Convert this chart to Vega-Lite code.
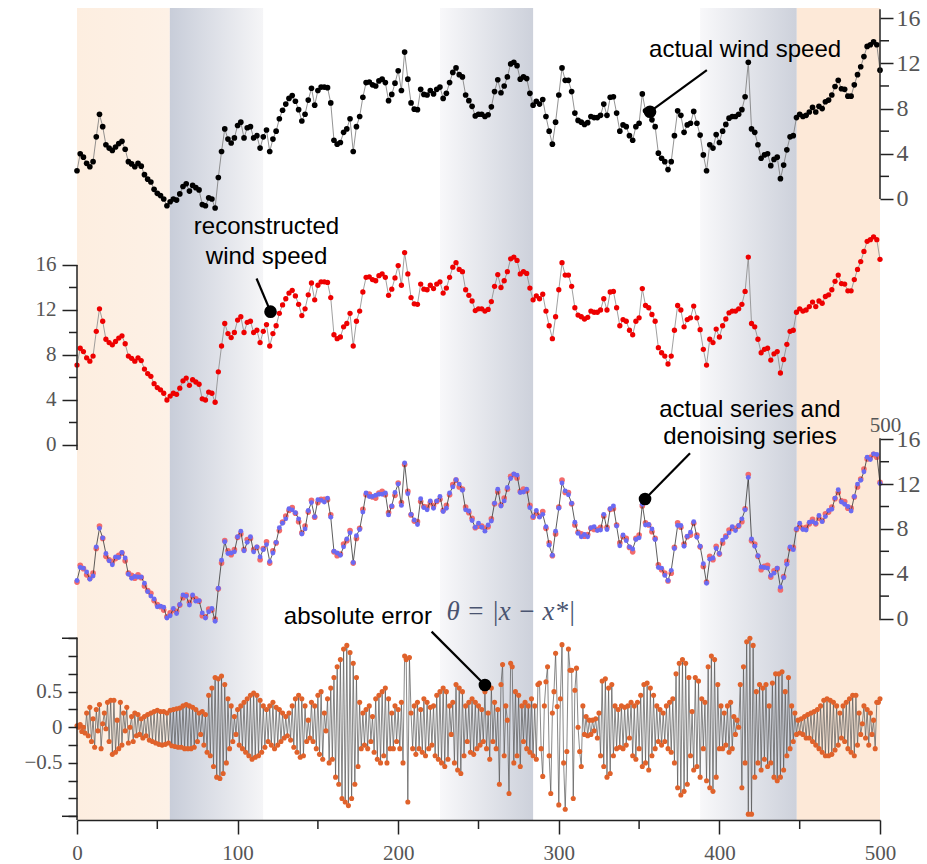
{
"$schema": "https://vega.github.io/schema/vega-lite/v6.json",
"width": 803, "height": 812,
"autosize": "none",
"padding": {"left": 77, "top": 8, "right": 47, "bottom": 44},
"background": "white",
"config": {"view": {"stroke": null}, "axis": {"grid": false, "labelFont": "Liberation Serif", "labelColor": "#555", "tickColor": "#222", "tickWidth": 1.5, "domainColor": "#222", "domainWidth": 1.5, "labelOverlap": false}},
"datasets": {
"main": [
{"x":0,"a":2.5,"r":7.1,"s":3.25,"d":3.4},
{"x":2,"a":4.0,"r":8.6,"s":4.75,"d":4.55},
{"x":4,"a":3.7,"r":8.3,"s":4.45,"d":4.5},
{"x":6,"a":3.15,"r":7.75,"s":3.9,"d":4.15},
{"x":8,"a":2.85,"r":7.45,"s":3.6,"d":3.5},
{"x":10,"a":3.3,"r":7.9,"s":4.05,"d":3.8},
{"x":12,"a":5.5,"r":10.1,"s":6.25,"d":6.4},
{"x":14,"a":7.5,"r":12.1,"s":8.25,"d":8.05},
{"x":16,"a":6.4,"r":11.0,"s":7.15,"d":7.2},
{"x":18,"a":4.8,"r":9.4,"s":5.55,"d":5.8},
{"x":20,"a":4.5,"r":9.1,"s":5.25,"d":5.15},
{"x":22,"a":4.3,"r":8.9,"s":5.05,"d":4.8},
{"x":24,"a":4.6,"r":9.2,"s":5.35,"d":5.5},
{"x":26,"a":4.9,"r":9.5,"s":5.65,"d":5.45},
{"x":28,"a":5.1,"r":9.7,"s":5.85,"d":5.9},
{"x":30,"a":4.4,"r":9.0,"s":5.15,"d":5.4},
{"x":32,"a":3.3,"r":7.9,"s":4.05,"d":3.95},
{"x":34,"a":3.1,"r":7.7,"s":3.85,"d":3.6},
{"x":36,"a":2.85,"r":7.45,"s":3.6,"d":3.75},
{"x":38,"a":3.15,"r":7.75,"s":3.9,"d":3.7},
{"x":40,"a":2.9,"r":7.5,"s":3.65,"d":3.7},
{"x":42,"a":2.15,"r":6.75,"s":2.9,"d":3.15},
{"x":44,"a":1.75,"r":6.35,"s":2.5,"d":2.4},
{"x":46,"a":1.5,"r":6.1,"s":2.25,"d":2.0},
{"x":48,"a":0.85,"r":5.45,"s":1.6,"d":1.75},
{"x":50,"a":0.5,"r":5.1,"s":1.25,"d":1.05},
{"x":52,"a":0.3,"r":4.9,"s":1.05,"d":1.1},
{"x":54,"a":0.0,"r":4.6,"s":0.75,"d":1.0},
{"x":56,"a":-0.6,"r":4.0,"s":0.15,"d":0.05},
{"x":58,"a":-0.25,"r":4.35,"s":0.5,"d":0.25},
{"x":60,"a":0.0,"r":4.6,"s":0.75,"d":0.9},
{"x":62,"a":-0.1,"r":4.5,"s":0.65,"d":0.45},
{"x":64,"a":0.45,"r":5.05,"s":1.2,"d":1.25},
{"x":66,"a":1.1,"r":5.7,"s":1.85,"d":2.1},
{"x":68,"a":1.35,"r":5.95,"s":2.1,"d":2.0},
{"x":70,"a":0.7,"r":5.3,"s":1.45,"d":1.2},
{"x":72,"a":1.2,"r":5.8,"s":1.95,"d":2.1},
{"x":74,"a":1.0,"r":5.6,"s":1.75,"d":1.55},
{"x":76,"a":0.8,"r":5.4,"s":1.55,"d":1.6},
{"x":78,"a":-0.5,"r":4.1,"s":0.25,"d":0.5},
{"x":80,"a":-0.6,"r":4.0,"s":0.15,"d":0.05},
{"x":82,"a":0.1,"r":4.7,"s":0.85,"d":0.6},
{"x":84,"a":0.0,"r":4.6,"s":0.75,"d":0.9},
{"x":86,"a":-0.8,"r":3.8,"s":-0.05,"d":-0.25},
{"x":88,"a":1.9,"r":6.5,"s":2.65,"d":2.7},
{"x":90,"a":4.2,"r":8.8,"s":4.95,"d":5.2},
{"x":92,"a":6.2,"r":10.8,"s":6.95,"d":6.85},
{"x":94,"a":5.3,"r":9.9,"s":6.05,"d":5.8},
{"x":96,"a":4.95,"r":9.55,"s":5.7,"d":5.85},
{"x":98,"a":5.4,"r":10.0,"s":6.15,"d":5.95},
{"x":100,"a":6.5,"r":11.1,"s":7.25,"d":7.3},
{"x":102,"a":6.8,"r":11.4,"s":7.55,"d":7.8},
{"x":104,"a":5.4,"r":10.0,"s":6.15,"d":6.05},
{"x":106,"a":6.3,"r":10.9,"s":7.05,"d":6.8},
{"x":108,"a":6.4,"r":11.0,"s":7.15,"d":7.3},
{"x":110,"a":5.4,"r":10.0,"s":6.15,"d":5.95},
{"x":112,"a":5.6,"r":10.2,"s":6.35,"d":6.4},
{"x":114,"a":4.5,"r":9.1,"s":5.25,"d":5.5},
{"x":116,"a":5.5,"r":10.1,"s":6.25,"d":6.15},
{"x":118,"a":6.1,"r":10.7,"s":6.85,"d":6.6},
{"x":120,"a":4.2,"r":8.8,"s":4.95,"d":5.1},
{"x":122,"a":5.3,"r":9.9,"s":6.05,"d":5.85},
{"x":124,"a":6.0,"r":10.6,"s":6.75,"d":6.8},
{"x":126,"a":7.1,"r":11.7,"s":7.85,"d":8.1},
{"x":128,"a":7.85,"r":12.45,"s":8.6,"d":8.5},
{"x":130,"a":8.4,"r":13.0,"s":9.15,"d":8.9},
{"x":132,"a":8.9,"r":13.5,"s":9.65,"d":9.8},
{"x":134,"a":9.15,"r":13.75,"s":9.9,"d":9.7},
{"x":136,"a":8.65,"r":13.25,"s":9.4,"d":9.45},
{"x":138,"a":7.9,"r":12.5,"s":8.65,"d":8.9},
{"x":140,"a":6.9,"r":11.5,"s":7.65,"d":7.55},
{"x":142,"a":7.5,"r":12.1,"s":8.25,"d":8.0},
{"x":144,"a":8.75,"r":13.35,"s":9.5,"d":9.65},
{"x":146,"a":9.8,"r":14.4,"s":10.55,"d":10.35},
{"x":148,"a":8.3,"r":12.9,"s":9.05,"d":9.1},
{"x":150,"a":9.6,"r":14.2,"s":10.35,"d":10.6},
{"x":152,"a":9.9,"r":14.5,"s":10.65,"d":10.55},
{"x":154,"a":9.9,"r":14.5,"s":10.65,"d":10.4},
{"x":156,"a":9.85,"r":14.45,"s":10.6,"d":10.75},
{"x":158,"a":8.5,"r":13.1,"s":9.25,"d":9.05},
{"x":160,"a":5.2,"r":9.8,"s":5.95,"d":6.0},
{"x":162,"a":4.85,"r":9.45,"s":5.6,"d":5.85},
{"x":164,"a":5.0,"r":9.6,"s":5.75,"d":5.65},
{"x":166,"a":5.9,"r":10.5,"s":6.65,"d":6.4},
{"x":168,"a":6.2,"r":10.8,"s":6.95,"d":7.1},
{"x":170,"a":7.1,"r":11.7,"s":7.85,"d":7.65},
{"x":172,"a":4.2,"r":8.8,"s":4.95,"d":5.0},
{"x":174,"a":6.4,"r":11.0,"s":7.15,"d":7.4},
{"x":176,"a":7.3,"r":11.9,"s":8.05,"d":7.95},
{"x":178,"a":9.0,"r":13.6,"s":9.75,"d":9.5},
{"x":180,"a":10.3,"r":14.9,"s":11.05,"d":11.2},
{"x":182,"a":10.35,"r":14.95,"s":11.1,"d":10.9},
{"x":184,"a":10.1,"r":14.7,"s":10.85,"d":10.9},
{"x":186,"a":10.0,"r":14.6,"s":10.75,"d":11.0},
{"x":188,"a":10.45,"r":15.05,"s":11.2,"d":11.1},
{"x":190,"a":10.6,"r":15.2,"s":11.35,"d":11.1},
{"x":192,"a":10.3,"r":14.9,"s":11.05,"d":11.2},
{"x":194,"a":8.7,"r":13.3,"s":9.45,"d":9.25},
{"x":196,"a":9.25,"r":13.85,"s":10.0,"d":10.05},
{"x":198,"a":10.25,"r":14.85,"s":11.0,"d":11.25},
{"x":200,"a":11.35,"r":15.95,"s":12.1,"d":12.0},
{"x":202,"a":9.6,"r":14.2,"s":10.35,"d":10.1},
{"x":204,"a":13.0,"r":17.1,"s":13.75,"d":13.9},
{"x":206,"a":10.6,"r":15.2,"s":11.35,"d":11.15},
{"x":208,"a":8.5,"r":13.1,"s":9.25,"d":9.3},
{"x":210,"a":7.95,"r":12.55,"s":8.7,"d":8.8},
{"x":212,"a":7.9,"r":12.5,"s":8.65,"d":8.4},
{"x":214,"a":9.7,"r":14.3,"s":10.45,"d":10.7},
{"x":216,"a":9.25,"r":13.85,"s":10.0,"d":9.9},
{"x":218,"a":9.2,"r":13.8,"s":9.95,"d":9.7},
{"x":220,"a":9.6,"r":14.2,"s":10.35,"d":10.5},
{"x":222,"a":9.3,"r":13.9,"s":10.05,"d":9.85},
{"x":224,"a":9.7,"r":14.3,"s":10.45,"d":10.5},
{"x":226,"a":9.9,"r":14.5,"s":10.65,"d":10.9},
{"x":228,"a":8.9,"r":13.5,"s":9.65,"d":9.55},
{"x":230,"a":9.35,"r":13.95,"s":10.1,"d":9.85},
{"x":232,"a":10.3,"r":14.9,"s":11.05,"d":11.2},
{"x":234,"a":11.2,"r":15.8,"s":11.95,"d":11.75},
{"x":236,"a":11.6,"r":16.2,"s":12.35,"d":12.4},
{"x":238,"a":11.0,"r":15.6,"s":11.75,"d":12.0},
{"x":240,"a":10.8,"r":15.4,"s":11.55,"d":11.45},
{"x":242,"a":9.2,"r":13.8,"s":9.95,"d":9.7},
{"x":244,"a":8.7,"r":13.3,"s":9.45,"d":9.6},
{"x":246,"a":8.2,"r":12.8,"s":8.95,"d":8.75},
{"x":248,"a":7.35,"r":11.95,"s":8.1,"d":8.15},
{"x":250,"a":7.5,"r":12.1,"s":8.25,"d":8.5},
{"x":252,"a":7.5,"r":12.1,"s":8.25,"d":8.15},
{"x":254,"a":7.3,"r":11.9,"s":8.05,"d":7.8},
{"x":256,"a":7.45,"r":12.05,"s":8.2,"d":8.35},
{"x":258,"a":8.15,"r":12.75,"s":8.9,"d":8.7},
{"x":260,"a":9.5,"r":14.1,"s":10.25,"d":10.3},
{"x":262,"a":10.55,"r":15.15,"s":11.3,"d":11.55},
{"x":264,"a":9.4,"r":14.0,"s":10.15,"d":10.05},
{"x":266,"a":10.0,"r":14.6,"s":10.75,"d":10.5},
{"x":268,"a":10.8,"r":15.4,"s":11.55,"d":11.7},
{"x":270,"a":11.95,"r":16.55,"s":12.7,"d":12.5},
{"x":272,"a":12.1,"r":16.7,"s":12.85,"d":12.9},
{"x":274,"a":11.8,"r":16.4,"s":12.55,"d":12.8},
{"x":276,"a":10.6,"r":15.2,"s":11.35,"d":11.25},
{"x":278,"a":10.8,"r":15.4,"s":11.55,"d":11.3},
{"x":280,"a":10.65,"r":15.25,"s":11.4,"d":11.55},
{"x":282,"a":9.35,"r":13.95,"s":10.1,"d":9.9},
{"x":284,"a":8.3,"r":12.9,"s":9.05,"d":9.1},
{"x":286,"a":8.65,"r":13.25,"s":9.4,"d":9.65},
{"x":288,"a":8.4,"r":13.0,"s":9.15,"d":9.05},
{"x":290,"a":8.8,"r":13.4,"s":9.55,"d":9.3},
{"x":292,"a":7.3,"r":11.9,"s":8.05,"d":8.2},
{"x":294,"a":6.0,"r":10.6,"s":6.75,"d":6.55},
{"x":296,"a":4.85,"r":9.45,"s":5.6,"d":5.65},
{"x":298,"a":6.8,"r":11.4,"s":7.55,"d":7.8},
{"x":300,"a":9.2,"r":13.8,"s":9.95,"d":9.85},
{"x":302,"a":11.6,"r":16.2,"s":12.35,"d":12.1},
{"x":304,"a":10.5,"r":15.1,"s":11.25,"d":11.4},
{"x":306,"a":10.5,"r":15.1,"s":11.25,"d":11.05},
{"x":308,"a":9.5,"r":14.1,"s":10.25,"d":10.3},
{"x":310,"a":7.6,"r":12.2,"s":8.35,"d":8.6},
{"x":312,"a":6.95,"r":11.55,"s":7.7,"d":7.6},
{"x":314,"a":6.8,"r":11.4,"s":7.55,"d":7.3},
{"x":316,"a":6.6,"r":11.2,"s":7.35,"d":7.5},
{"x":318,"a":6.75,"r":11.35,"s":7.5,"d":7.3},
{"x":320,"a":7.3,"r":11.9,"s":8.05,"d":8.1},
{"x":322,"a":7.2,"r":11.8,"s":7.95,"d":8.2},
{"x":324,"a":7.2,"r":11.8,"s":7.95,"d":7.85},
{"x":326,"a":7.4,"r":12.0,"s":8.15,"d":7.9},
{"x":328,"a":8.4,"r":13.0,"s":9.15,"d":9.3},
{"x":330,"a":7.4,"r":12.0,"s":8.15,"d":7.95},
{"x":332,"a":9.0,"r":13.6,"s":9.75,"d":9.8},
{"x":334,"a":9.05,"r":13.65,"s":9.8,"d":10.05},
{"x":336,"a":7.6,"r":12.2,"s":8.35,"d":8.25},
{"x":338,"a":6.0,"r":10.6,"s":6.75,"d":6.5},
{"x":340,"a":6.55,"r":11.15,"s":7.3,"d":7.45},
{"x":342,"a":6.4,"r":11.0,"s":7.15,"d":6.95},
{"x":344,"a":5.6,"r":10.2,"s":6.35,"d":6.4},
{"x":346,"a":5.2,"r":9.8,"s":5.95,"d":6.2},
{"x":348,"a":6.4,"r":11.0,"s":7.15,"d":7.05},
{"x":350,"a":6.7,"r":11.3,"s":7.45,"d":7.2},
{"x":352,"a":9.3,"r":13.9,"s":10.05,"d":10.2},
{"x":354,"a":7.8,"r":12.4,"s":8.55,"d":8.35},
{"x":356,"a":7.6,"r":12.2,"s":8.35,"d":8.4},
{"x":358,"a":7.0,"r":11.6,"s":7.75,"d":8.0},
{"x":360,"a":6.4,"r":11.0,"s":7.15,"d":7.05},
{"x":362,"a":4.05,"r":8.65,"s":4.8,"d":4.55},
{"x":364,"a":3.6,"r":8.2,"s":4.35,"d":4.5},
{"x":366,"a":3.3,"r":7.9,"s":4.05,"d":3.85},
{"x":368,"a":2.6,"r":7.2,"s":3.35,"d":3.4},
{"x":370,"a":3.3,"r":7.9,"s":4.05,"d":4.3},
{"x":372,"a":5.6,"r":10.2,"s":6.35,"d":6.25},
{"x":374,"a":7.8,"r":12.4,"s":8.55,"d":8.3},
{"x":376,"a":7.4,"r":12.0,"s":8.15,"d":8.3},
{"x":378,"a":5.9,"r":10.5,"s":6.65,"d":6.45},
{"x":380,"a":6.55,"r":11.15,"s":7.3,"d":7.35},
{"x":382,"a":6.7,"r":11.3,"s":7.45,"d":7.7},
{"x":384,"a":7.75,"r":12.35,"s":8.5,"d":8.65},
{"x":386,"a":6.7,"r":11.3,"s":7.45,"d":7.25},
{"x":388,"a":5.65,"r":10.25,"s":6.4,"d":6.45},
{"x":390,"a":3.9,"r":8.5,"s":4.65,"d":4.9},
{"x":392,"a":2.5,"r":7.1,"s":3.25,"d":3.15},
{"x":394,"a":4.8,"r":9.4,"s":5.55,"d":5.3},
{"x":396,"a":4.5,"r":9.1,"s":5.25,"d":5.4},
{"x":398,"a":5.7,"r":10.3,"s":6.45,"d":6.25},
{"x":400,"a":5.0,"r":9.6,"s":5.75,"d":5.8},
{"x":402,"a":6.0,"r":10.6,"s":6.75,"d":7.0},
{"x":404,"a":6.6,"r":11.2,"s":7.35,"d":7.25},
{"x":406,"a":7.15,"r":11.75,"s":7.9,"d":7.65},
{"x":408,"a":7.3,"r":11.9,"s":8.05,"d":8.2},
{"x":410,"a":7.3,"r":11.9,"s":8.05,"d":7.85},
{"x":412,"a":7.5,"r":12.1,"s":8.25,"d":8.3},
{"x":414,"a":7.9,"r":12.5,"s":8.65,"d":8.9},
{"x":416,"a":9.05,"r":13.65,"s":9.8,"d":9.7},
{"x":418,"a":12.1,"r":16.7,"s":12.85,"d":12.6},
{"x":420,"a":6.2,"r":10.8,"s":6.95,"d":7.1},
{"x":422,"a":5.9,"r":10.5,"s":6.65,"d":6.45},
{"x":424,"a":4.8,"r":9.4,"s":5.55,"d":5.6},
{"x":426,"a":3.6,"r":8.2,"s":4.35,"d":4.6},
{"x":428,"a":3.9,"r":8.5,"s":4.65,"d":4.55},
{"x":430,"a":4.0,"r":8.6,"s":4.75,"d":4.5},
{"x":432,"a":2.95,"r":7.55,"s":3.7,"d":3.85},
{"x":434,"a":3.5,"r":8.1,"s":4.25,"d":4.05},
{"x":436,"a":3.7,"r":8.3,"s":4.45,"d":4.5},
{"x":438,"a":1.8,"r":6.4,"s":2.55,"d":2.8},
{"x":440,"a":3.0,"r":7.6,"s":3.75,"d":3.65},
{"x":442,"a":4.35,"r":8.95,"s":5.1,"d":4.85},
{"x":444,"a":5.5,"r":10.1,"s":6.25,"d":6.4},
{"x":446,"a":5.6,"r":10.2,"s":6.35,"d":6.15},
{"x":448,"a":7.2,"r":11.8,"s":7.95,"d":8.0},
{"x":450,"a":7.5,"r":12.1,"s":8.25,"d":8.5},
{"x":452,"a":7.3,"r":11.9,"s":8.05,"d":7.95},
{"x":454,"a":7.4,"r":12.0,"s":8.15,"d":7.9},
{"x":456,"a":7.7,"r":12.3,"s":8.45,"d":8.6},
{"x":458,"a":8.1,"r":12.7,"s":8.85,"d":8.65},
{"x":460,"a":7.7,"r":12.3,"s":8.45,"d":8.5},
{"x":462,"a":8.2,"r":12.8,"s":8.95,"d":9.2},
{"x":464,"a":8.0,"r":12.6,"s":8.75,"d":8.65},
{"x":466,"a":8.6,"r":13.2,"s":9.35,"d":9.1},
{"x":468,"a":8.75,"r":13.35,"s":9.5,"d":9.65},
{"x":470,"a":9.2,"r":13.8,"s":9.95,"d":9.75},
{"x":472,"a":9.95,"r":14.55,"s":10.7,"d":10.75},
{"x":474,"a":10.5,"r":15.1,"s":11.25,"d":11.5},
{"x":476,"a":9.75,"r":14.35,"s":10.5,"d":10.4},
{"x":478,"a":9.7,"r":14.3,"s":10.45,"d":10.2},
{"x":480,"a":9.1,"r":13.7,"s":9.85,"d":10.0},
{"x":482,"a":9.1,"r":13.7,"s":9.85,"d":9.6},
{"x":484,"a":10.1,"r":14.7,"s":10.85,"d":10.9},
{"x":486,"a":11.0,"r":15.6,"s":11.75,"d":12.0},
{"x":488,"a":11.7,"r":16.3,"s":12.45,"d":12.35},
{"x":490,"a":12.6,"r":17.2,"s":13.35,"d":13.1},
{"x":492,"a":13.5,"r":18.1,"s":14.25,"d":14.4},
{"x":494,"a":13.65,"r":18.25,"s":14.4,"d":14.2},
{"x":496,"a":13.9,"r":18.5,"s":14.65,"d":14.7},
{"x":498,"a":13.65,"r":18.25,"s":14.4,"d":14.65},
{"x":500,"a":11.4,"r":16.5,"s":12.15,"d":12.05}
],
"err": [
{"x":0,"e":0.02},{"x":1,"e":0.0},{"x":2,"e":0.04},{"x":3,"e":-0.06},{"x":4,"e":0.0},{"x":5,"e":-0.08},{"x":6,"e":0.2},{"x":7,"e":-0.12},{"x":8,"e":0.28},{"x":9,"e":-0.2},
{"x":10,"e":0.12},{"x":11,"e":-0.28},{"x":12,"e":0.25},{"x":13,"e":-0.05},{"x":14,"e":0.32},{"x":15,"e":-0.3},{"x":16,"e":0.05},{"x":17,"e":0.2},{"x":18,"e":-0.02},{"x":19,"e":0.35},
{"x":20,"e":-0.2},{"x":21,"e":0.38},{"x":22,"e":-0.38},{"x":23,"e":0.38},{"x":24,"e":-0.35},{"x":25,"e":0.1},{"x":26,"e":-0.3},{"x":27,"e":0.35},{"x":28,"e":-0.25},{"x":29,"e":0.2},
{"x":30,"e":-0.05},{"x":31,"e":0.28},{"x":32,"e":-0.22},{"x":33,"e":0.0},{"x":34,"e":0.15},{"x":35,"e":-0.2},{"x":36,"e":0.2},{"x":37,"e":-0.12},{"x":38,"e":0.18},{"x":39,"e":-0.1},
{"x":40,"e":0.12},{"x":41,"e":-0.15},{"x":42,"e":0.15},{"x":43,"e":-0.12},{"x":44,"e":0.18},{"x":45,"e":-0.18},{"x":46,"e":0.2},{"x":47,"e":-0.2},{"x":48,"e":0.22},{"x":49,"e":-0.22},
{"x":50,"e":0.24},{"x":51,"e":-0.24},{"x":52,"e":0.22},{"x":53,"e":-0.25},{"x":54,"e":0.22},{"x":55,"e":-0.24},{"x":56,"e":0.2},{"x":57,"e":-0.22},{"x":58,"e":0.24},{"x":59,"e":-0.26},
{"x":60,"e":0.25},{"x":61,"e":-0.27},{"x":62,"e":0.26},{"x":63,"e":-0.28},{"x":64,"e":0.27},{"x":65,"e":-0.28},{"x":66,"e":0.3},{"x":67,"e":-0.3},{"x":68,"e":0.32},{"x":69,"e":-0.3},
{"x":70,"e":0.3},{"x":71,"e":-0.3},{"x":72,"e":0.28},{"x":73,"e":-0.28},{"x":74,"e":0.25},{"x":75,"e":-0.2},{"x":76,"e":0.2},{"x":77,"e":-0.1},{"x":78,"e":0.22},{"x":79,"e":-0.25},
{"x":80,"e":0.18},{"x":81,"e":-0.35},{"x":82,"e":0.45},{"x":83,"e":-0.4},{"x":84,"e":0.55},{"x":85,"e":-0.55},{"x":86,"e":0.7},{"x":87,"e":-0.7},{"x":88,"e":0.68},{"x":89,"e":-0.72},
{"x":90,"e":0.72},{"x":91,"e":-0.65},{"x":92,"e":0.6},{"x":93,"e":-0.5},{"x":94,"e":0.4},{"x":95,"e":-0.3},{"x":96,"e":0.3},{"x":97,"e":-0.2},{"x":98,"e":0.15},{"x":99,"e":-0.1},
{"x":100,"e":0.25},{"x":101,"e":-0.25},{"x":102,"e":0.3},{"x":103,"e":-0.3},{"x":104,"e":0.35},{"x":105,"e":-0.35},{"x":106,"e":0.4},{"x":107,"e":-0.4},{"x":108,"e":0.45},{"x":109,"e":-0.45},
{"x":110,"e":0.48},{"x":111,"e":-0.42},{"x":112,"e":0.45},{"x":113,"e":-0.4},{"x":114,"e":0.38},{"x":115,"e":-0.35},{"x":116,"e":0.3},{"x":117,"e":-0.28},{"x":118,"e":0.25},{"x":119,"e":-0.2},
{"x":120,"e":0.3},{"x":121,"e":-0.25},{"x":122,"e":0.35},{"x":123,"e":-0.3},{"x":124,"e":0.28},{"x":125,"e":-0.25},{"x":126,"e":0.25},{"x":127,"e":-0.2},{"x":128,"e":0.2},{"x":129,"e":-0.15},
{"x":130,"e":0.15},{"x":131,"e":-0.12},{"x":132,"e":0.2},{"x":133,"e":-0.18},{"x":134,"e":0.3},{"x":135,"e":-0.28},{"x":136,"e":0.4},{"x":137,"e":-0.35},{"x":138,"e":0.45},{"x":139,"e":-0.42},
{"x":140,"e":0.4},{"x":141,"e":-0.4},{"x":142,"e":0.3},{"x":143,"e":-0.2},{"x":144,"e":0.1},{"x":145,"e":-0.15},{"x":146,"e":0.35},{"x":147,"e":-0.2},{"x":148,"e":0.3},{"x":149,"e":-0.3},
{"x":150,"e":0.45},{"x":151,"e":-0.38},{"x":152,"e":0.5},{"x":153,"e":-0.45},{"x":154,"e":0.2},{"x":155,"e":-0.05},{"x":156,"e":0.4},{"x":157,"e":-0.5},{"x":158,"e":0.55},{"x":159,"e":-0.45},
{"x":160,"e":0.7},{"x":161,"e":-0.7},{"x":162,"e":0.85},{"x":163,"e":-0.8},{"x":164,"e":0.95},{"x":165,"e":-1.0},{"x":166,"e":1.1},{"x":167,"e":-1.05},{"x":168,"e":1.15},{"x":169,"e":-1.1},
{"x":170,"e":1.05},{"x":171,"e":-1.0},{"x":172,"e":0.9},{"x":173,"e":-0.8},{"x":174,"e":0.7},{"x":175,"e":-0.55},{"x":176,"e":0.35},{"x":177,"e":-0.3},{"x":178,"e":0.2},{"x":179,"e":-0.25},
{"x":180,"e":0.25},{"x":181,"e":-0.3},{"x":182,"e":0.3},{"x":183,"e":-0.2},{"x":184,"e":0.15},{"x":185,"e":-0.35},{"x":186,"e":0.4},{"x":187,"e":-0.45},{"x":188,"e":0.45},{"x":189,"e":-0.5},
{"x":190,"e":0.5},{"x":191,"e":-0.4},{"x":192,"e":0.55},{"x":193,"e":-0.5},{"x":194,"e":0.4},{"x":195,"e":-0.3},{"x":196,"e":0.2},{"x":197,"e":-0.3},{"x":198,"e":0.3},{"x":199,"e":-0.2},
{"x":200,"e":0.25},{"x":201,"e":-0.3},{"x":202,"e":0.35},{"x":203,"e":-0.5},{"x":204,"e":1.0},{"x":205,"e":0.95},{"x":206,"e":-1.05},{"x":207,"e":0.98},{"x":208,"e":0.2},{"x":209,"e":-0.3},
{"x":210,"e":0.3},{"x":211,"e":-0.38},{"x":212,"e":0.35},{"x":213,"e":-0.3},{"x":214,"e":0.25},{"x":215,"e":-0.35},{"x":216,"e":0.4},{"x":217,"e":-0.4},{"x":218,"e":0.35},{"x":219,"e":-0.3},
{"x":220,"e":0.28},{"x":221,"e":-0.25},{"x":222,"e":0.3},{"x":223,"e":-0.4},{"x":224,"e":0.45},{"x":225,"e":-0.45},{"x":226,"e":0.5},{"x":227,"e":-0.5},{"x":228,"e":0.55},{"x":229,"e":-0.55},
{"x":230,"e":0.5},{"x":231,"e":-0.45},{"x":232,"e":0.3},{"x":233,"e":-0.1},{"x":234,"e":0.35},{"x":235,"e":-0.5},{"x":236,"e":0.6},{"x":237,"e":-0.6},{"x":238,"e":0.55},{"x":239,"e":-0.65},
{"x":240,"e":0.5},{"x":241,"e":-0.4},{"x":242,"e":0.3},{"x":243,"e":-0.2},{"x":244,"e":0.35},{"x":245,"e":-0.35},{"x":246,"e":0.4},{"x":247,"e":-0.38},{"x":248,"e":0.35},{"x":249,"e":-0.3},
{"x":250,"e":0.3},{"x":251,"e":-0.25},{"x":252,"e":0.25},{"x":253,"e":-0.2},{"x":254,"e":0.5},{"x":255,"e":-0.3},{"x":256,"e":0.2},{"x":257,"e":-0.45},{"x":258,"e":0.55},{"x":259,"e":-0.2},
{"x":260,"e":0.35},{"x":261,"e":-0.3},{"x":262,"e":0.25},{"x":263,"e":-0.8},{"x":264,"e":0.6},{"x":265,"e":0.88},{"x":266,"e":-0.4},{"x":267,"e":0.3},{"x":268,"e":0.1},{"x":269,"e":-0.93},
{"x":270,"e":0.9},{"x":271,"e":0.85},{"x":272,"e":-0.5},{"x":273,"e":0.5},{"x":274,"e":-0.4},{"x":275,"e":0.45},{"x":276,"e":-0.55},{"x":277,"e":0.3},{"x":278,"e":-0.2},{"x":279,"e":0.35},
{"x":280,"e":-0.3},{"x":281,"e":0.3},{"x":282,"e":-0.35},{"x":283,"e":0.4},{"x":284,"e":-0.4},{"x":285,"e":0.3},{"x":286,"e":-0.45},{"x":287,"e":0.6},{"x":288,"e":0.62},{"x":289,"e":-0.3},
{"x":290,"e":-0.69},{"x":291,"e":0.3},{"x":292,"e":0.64},{"x":293,"e":0.85},{"x":294,"e":-0.4},{"x":295,"e":-0.93},{"x":296,"e":0.2},{"x":297,"e":0.5},{"x":298,"e":1.04},{"x":299,"e":0.29},
{"x":300,"e":-1.09},{"x":301,"e":0.4},{"x":302,"e":1.16},{"x":303,"e":-0.5},{"x":304,"e":-1.15},{"x":305,"e":-0.34},{"x":306,"e":1.1},{"x":307,"e":0.8},{"x":308,"e":0.8},{"x":309,"e":-1.0},
{"x":310,"e":0.52},{"x":311,"e":0.83},{"x":312,"e":0.0},{"x":313,"e":-0.34},{"x":314,"e":-0.55},{"x":315,"e":0.3},{"x":316,"e":-0.1},{"x":317,"e":0.15},{"x":318,"e":-0.12},{"x":319,"e":0.1},
{"x":320,"e":-0.1},{"x":321,"e":0.1},{"x":322,"e":-0.05},{"x":323,"e":0.12},{"x":324,"e":-0.15},{"x":325,"e":0.2},{"x":326,"e":-0.4},{"x":327,"e":0.65},{"x":328,"e":-0.55},{"x":329,"e":0.68},
{"x":330,"e":-0.7},{"x":331,"e":0.55},{"x":332,"e":-0.65},{"x":333,"e":0.6},{"x":334,"e":-0.4},{"x":335,"e":0.3},{"x":336,"e":-0.3},{"x":337,"e":0.25},{"x":338,"e":-0.28},{"x":339,"e":0.3},
{"x":340,"e":-0.3},{"x":341,"e":0.28},{"x":342,"e":-0.25},{"x":343,"e":0.3},{"x":344,"e":-0.15},{"x":345,"e":0.35},{"x":346,"e":-0.4},{"x":347,"e":0.3},{"x":348,"e":-0.45},{"x":349,"e":0.35},
{"x":350,"e":-0.3},{"x":351,"e":0.45},{"x":352,"e":-0.55},{"x":353,"e":0.6},{"x":354,"e":-0.5},{"x":355,"e":0.62},{"x":356,"e":-0.6},{"x":357,"e":0.55},{"x":358,"e":-0.4},{"x":359,"e":0.45},
{"x":360,"e":-0.3},{"x":361,"e":0.3},{"x":362,"e":-0.2},{"x":363,"e":0.25},{"x":364,"e":-0.25},{"x":365,"e":0.2},{"x":366,"e":-0.2},{"x":367,"e":0.3},{"x":368,"e":-0.3},{"x":369,"e":0.35},
{"x":370,"e":-0.35},{"x":371,"e":0.4},{"x":372,"e":-0.5},{"x":373,"e":0.75},{"x":374,"e":-0.85},{"x":375,"e":0.9},{"x":376,"e":-0.95},{"x":377,"e":0.95},{"x":378,"e":-0.9},{"x":379,"e":0.9},
{"x":380,"e":-0.8},{"x":381,"e":0.7},{"x":382,"e":-0.4},{"x":383,"e":0.22},{"x":384,"e":-0.6},{"x":385,"e":0.7},{"x":386,"e":-0.55},{"x":387,"e":0.65},{"x":388,"e":-0.7},{"x":389,"e":0.4},
{"x":390,"e":-0.3},{"x":391,"e":0.35},{"x":392,"e":-0.75},{"x":393,"e":0.85},{"x":394,"e":-0.85},{"x":395,"e":1.0},{"x":396,"e":-0.9},{"x":397,"e":0.95},{"x":398,"e":-0.7},{"x":399,"e":0.6},
{"x":400,"e":-0.3},{"x":401,"e":0.3},{"x":402,"e":-0.3},{"x":403,"e":0.2},{"x":404,"e":-0.25},{"x":405,"e":0.3},{"x":406,"e":-0.35},{"x":407,"e":0.35},{"x":408,"e":-0.3},{"x":409,"e":0.15},
{"x":410,"e":-0.1},{"x":411,"e":0.1},{"x":412,"e":0.0},{"x":413,"e":0.6},{"x":414,"e":-0.85},{"x":415,"e":0.85},{"x":416,"e":-0.5},{"x":417,"e":1.2},{"x":418,"e":-1.22},{"x":419,"e":1.25},
{"x":420,"e":-1.22},{"x":421,"e":1.15},{"x":422,"e":-0.7},{"x":423,"e":0.5},{"x":424,"e":-0.5},{"x":425,"e":0.6},{"x":426,"e":-0.6},{"x":427,"e":0.55},{"x":428,"e":-0.45},{"x":429,"e":0.6},
{"x":430,"e":-0.55},{"x":431,"e":0.3},{"x":432,"e":-0.5},{"x":433,"e":0.62},{"x":434,"e":-0.7},{"x":435,"e":0.75},{"x":436,"e":-0.75},{"x":437,"e":0.75},{"x":438,"e":-0.7},{"x":439,"e":0.78},
{"x":440,"e":-0.6},{"x":441,"e":0.5},{"x":442,"e":-0.4},{"x":443,"e":0.7},{"x":444,"e":-0.3},{"x":445,"e":0.3},{"x":446,"e":-0.2},{"x":447,"e":0.2},{"x":448,"e":-0.1},{"x":449,"e":0.1},
{"x":450,"e":-0.08},{"x":451,"e":0.12},{"x":452,"e":-0.1},{"x":453,"e":0.15},{"x":454,"e":-0.15},{"x":455,"e":0.18},{"x":456,"e":-0.15},{"x":457,"e":0.2},{"x":458,"e":-0.2},{"x":459,"e":0.22},
{"x":460,"e":-0.25},{"x":461,"e":0.25},{"x":462,"e":-0.3},{"x":463,"e":0.3},{"x":464,"e":-0.35},{"x":465,"e":0.38},{"x":466,"e":-0.4},{"x":467,"e":0.4},{"x":468,"e":-0.4},{"x":469,"e":0.38},
{"x":470,"e":-0.38},{"x":471,"e":0.35},{"x":472,"e":-0.32},{"x":473,"e":0.3},{"x":474,"e":-0.25},{"x":475,"e":0.2},{"x":476,"e":-0.15},{"x":477,"e":0.3},{"x":478,"e":-0.2},{"x":479,"e":0.35},
{"x":480,"e":-0.3},{"x":481,"e":0.4},{"x":482,"e":-0.35},{"x":483,"e":0.45},{"x":484,"e":-0.4},{"x":485,"e":0.45},{"x":486,"e":-0.25},{"x":487,"e":0.2},{"x":488,"e":-0.1},{"x":489,"e":0.05},
{"x":490,"e":0.3},{"x":491,"e":-0.15},{"x":492,"e":0.25},{"x":493,"e":-0.25},{"x":494,"e":0.2},{"x":495,"e":-0.1},{"x":496,"e":0.1},{"x":497,"e":-0.3},{"x":498,"e":0.35},{"x":499,"e":0.35},
{"x":500,"e":0.4}
]
},
"layer": [
{"data": {"values": [{"x0": 0, "x1": 57.8}]},
 "mark": {"type": "rect", "fill": {"gradient": "linear", "x1": 0, "y1": 0, "x2": 1, "y2": 0, "stops": [{"offset": 0, "color": "#fdeee0"}, {"offset": 1, "color": "#fdf1e6"}]}},
 "encoding": {
  "x": {"field": "x0", "type": "quantitative", "scale": {"domain": [0, 500], "nice": false, "zero": false},
   "axis": {"orient": "bottom", "values": [0, 100, 200, 300, 400, 500], "tickSize": 14, "labelFontSize": 21, "labelPadding": 8, "labelFlush": false, "title": null, "zindex": 1}},
  "x2": {"field": "x1"}}},
{"data": {"values": [{"x0": 57.8, "x1": 115.9}]},
 "mark": {"type": "rect", "fill": {"gradient": "linear", "x1": 0, "y1": 0, "x2": 1, "y2": 0, "stops": [{"offset": 0, "color": "#c8cdd9"}, {"offset": 1, "color": "#f5f5f7"}]}},
 "encoding": {"x": {"field": "x0", "type": "quantitative"}, "x2": {"field": "x1"}}},
{"data": {"values": [{"x0": 226, "x1": 284}, {"x0": 388, "x1": 448.2}]},
 "mark": {"type": "rect", "fill": {"gradient": "linear", "x1": 0, "y1": 0, "x2": 1, "y2": 0, "stops": [{"offset": 0, "color": "#f8f8fa"}, {"offset": 1, "color": "#cdd1db"}]}},
 "encoding": {"x": {"field": "x0", "type": "quantitative"}, "x2": {"field": "x1"}}},
{"data": {"values": [{"x0": 448.2, "x1": 500}]},
 "mark": {"type": "rect", "fill": "#fde9d8"},
 "encoding": {"x": {"field": "x0", "type": "quantitative"}, "x2": {"field": "x1"}}},

{"layer": [
 {"data": {"name": "main"}, "mark": {"type": "line", "stroke": "#777", "strokeWidth": 0.8},
  "encoding": {"x": {"field": "x", "type": "quantitative"},
   "y": {"field": "a", "type": "quantitative", "scale": {"domain": [-54.96, 16.9], "nice": false, "zero": false},
    "axis": {"orient": "right", "values": [0, 4, 8, 12, 16], "tickSize": 13, "domain": false, "labelFontSize": 24, "labelPadding": 3, "labelBaseline": "middle", "title": null, "zindex": 1}}}},
 {"data": {"name": "main"}, "mark": {"type": "circle", "color": "#000", "size": 32, "opacity": 1},
  "encoding": {"x": {"field": "x", "type": "quantitative"},
   "y": {"field": "a", "type": "quantitative"}}},
 {"data": {"values": [{"x": 500, "y0": 0, "y1": 16.8}]}, "mark": {"type": "rule", "stroke": "#222", "strokeWidth": 1.5},
  "encoding": {"x": {"field": "x", "type": "quantitative"},
   "y": {"field": "y0", "type": "quantitative"}, "y2": {"field": "y1"}}},
 {"data": {"values": [{"x": 500, "y": 2}, {"x": 500, "y": 6}, {"x": 500, "y": 10}, {"x": 500, "y": 14}]}, "mark": {"type": "tick", "orient": "horizontal", "size": 9, "thickness": 1.5, "color": "#222", "xOffset": 4.5, "opacity": 1},
  "encoding": {"x": {"field": "x", "type": "quantitative"},
   "y": {"field": "y", "type": "quantitative"}}},
 {"data": {"values": [{"x": 392.2, "y": 11.4, "x2": 356.8, "y2": 7.72}]}, "mark": {"type": "rule", "stroke": "#000", "strokeWidth": 2.2},
  "encoding": {"x": {"field": "x", "type": "quantitative"},
   "y": {"field": "y", "type": "quantitative"},
   "x2": {"field": "x2"}, "y2": {"field": "y2"}}},
 {"data": {"values": [{"x": 356.8, "y": 7.72}]}, "mark": {"type": "circle", "color": "#000", "size": 160, "opacity": 1},
  "encoding": {"x": {"field": "x", "type": "quantitative"},
   "y": {"field": "y", "type": "quantitative"}}},
 {"data": {"values": [{"x": 416, "y": 13.17, "t": "actual wind speed"}]}, "mark": {"type": "text", "font": "Liberation Sans", "fontSize": 24, "align": "center", "baseline": "middle", "color": "#000"},
  "encoding": {"x": {"field": "x", "type": "quantitative"},
   "y": {"field": "y", "type": "quantitative"},
   "text": {"field": "t"}}}
]},

{"layer": [
 {"data": {"name": "main"}, "mark": {"type": "line", "stroke": "#888", "strokeWidth": 0.8},
  "encoding": {"x": {"field": "x", "type": "quantitative"},
   "y": {"field": "r", "type": "quantitative", "scale": {"domain": [-33.33, 38.84], "nice": false, "zero": false},
    "axis": {"orient": "left", "values": [0, 4, 8, 12, 16], "tickSize": 15, "domain": false, "labelFontSize": 21, "labelPadding": 6, "labelBaseline": "middle", "title": null, "zindex": 1}}}},
 {"data": {"name": "main"}, "mark": {"type": "circle", "color": "#ee0000", "size": 28, "opacity": 1},
  "encoding": {"x": {"field": "x", "type": "quantitative"},
   "y": {"field": "r", "type": "quantitative"}}},
 {"data": {"values": [{"x": 0, "y0": -0.45, "y1": 16}]}, "mark": {"type": "rule", "stroke": "#222", "strokeWidth": 1.5},
  "encoding": {"x": {"field": "x", "type": "quantitative"},
   "y": {"field": "y0", "type": "quantitative"}, "y2": {"field": "y1"}}},
 {"data": {"values": [{"x": 0, "y": 2}, {"x": 0, "y": 6}, {"x": 0, "y": 10}, {"x": 0, "y": 14}]}, "mark": {"type": "tick", "orient": "horizontal", "size": 8, "thickness": 1.5, "color": "#222", "xOffset": -4, "opacity": 1},
  "encoding": {"x": {"field": "x", "type": "quantitative"},
   "y": {"field": "y", "type": "quantitative"}}},
 {"data": {"values": [{"x": 111.8, "y": 14.8, "x2": 120.5, "y2": 11.85}]}, "mark": {"type": "rule", "stroke": "#000", "strokeWidth": 2.2},
  "encoding": {"x": {"field": "x", "type": "quantitative"},
   "y": {"field": "y", "type": "quantitative"},
   "x2": {"field": "x2"}, "y2": {"field": "y2"}}},
 {"data": {"values": [{"x": 120.5, "y": 11.85}]}, "mark": {"type": "circle", "color": "#000", "size": 160, "opacity": 1},
  "encoding": {"x": {"field": "x", "type": "quantitative"},
   "y": {"field": "y", "type": "quantitative"}}},
 {"data": {"values": [{"x": 118, "y": 19.4, "t": "reconstructed"}, {"x": 118, "y": 16.74, "t": "wind speed"}]}, "mark": {"type": "text", "font": "Liberation Sans", "fontSize": 24, "align": "center", "baseline": "middle", "color": "#000"},
  "encoding": {"x": {"field": "x", "type": "quantitative"},
   "y": {"field": "y", "type": "quantitative"},
   "text": {"field": "t"}}}
]},

{"layer": [
 {"data": {"name": "main"}, "mark": {"type": "circle", "color": "#f26b6b", "size": 32, "opacity": 1},
  "encoding": {"x": {"field": "x", "type": "quantitative"},
   "y": {"field": "s", "type": "quantitative", "scale": {"domain": [-17.99, 54.51], "nice": false, "zero": false},
    "axis": {"orient": "right", "values": [0, 4, 8, 12, 16], "tickSize": 13, "domain": false, "labelFontSize": 24, "labelPadding": 3, "labelBaseline": "middle", "title": null, "zindex": 1}}}},
 {"data": {"name": "main"}, "mark": {"type": "line", "stroke": "#333", "strokeWidth": 0.8},
  "encoding": {"x": {"field": "x", "type": "quantitative"},
   "y": {"field": "d", "type": "quantitative"}}},
 {"data": {"name": "main"}, "mark": {"type": "circle", "color": "#6a6af2", "size": 24, "opacity": 1},
  "encoding": {"x": {"field": "x", "type": "quantitative"},
   "y": {"field": "d", "type": "quantitative"}}},
 {"data": {"values": [{"x": 500, "y0": -0.15, "y1": 16.1}]}, "mark": {"type": "rule", "stroke": "#222", "strokeWidth": 1.5},
  "encoding": {"x": {"field": "x", "type": "quantitative"},
   "y": {"field": "y0", "type": "quantitative"}, "y2": {"field": "y1"}}},
 {"data": {"values": [{"x": 500, "y": 2}, {"x": 500, "y": 6}, {"x": 500, "y": 10}, {"x": 500, "y": 14}]}, "mark": {"type": "tick", "orient": "horizontal", "size": 9, "thickness": 1.5, "color": "#222", "xOffset": 4.5, "opacity": 1},
  "encoding": {"x": {"field": "x", "type": "quantitative"},
   "y": {"field": "y", "type": "quantitative"}}},
 {"data": {"values": [{"x": 381.7, "y": 14.75, "x2": 353.7, "y2": 10.67}]}, "mark": {"type": "rule", "stroke": "#000", "strokeWidth": 2.2},
  "encoding": {"x": {"field": "x", "type": "quantitative"},
   "y": {"field": "y", "type": "quantitative"},
   "x2": {"field": "x2"}, "y2": {"field": "y2"}}},
 {"data": {"values": [{"x": 353.7, "y": 10.67}]}, "mark": {"type": "circle", "color": "#000", "size": 160, "opacity": 1},
  "encoding": {"x": {"field": "x", "type": "quantitative"},
   "y": {"field": "y", "type": "quantitative"}}},
 {"data": {"values": [{"x": 419, "y": 18.6, "t": "actual series and"}, {"x": 419, "y": 16.18, "t": "denoising series"}]}, "mark": {"type": "text", "font": "Liberation Sans", "fontSize": 24, "align": "center", "baseline": "middle", "color": "#000"},
  "encoding": {"x": {"field": "x", "type": "quantitative"},
   "y": {"field": "y", "type": "quantitative"},
   "text": {"field": "t"}}},
 {"data": {"values": [{"x": 503.5, "y": 17.2, "t": "500"}]}, "mark": {"type": "text", "font": "Liberation Serif", "fontSize": 21, "align": "center", "baseline": "middle", "color": "#555"},
  "encoding": {"x": {"field": "x", "type": "quantitative"},
   "y": {"field": "y", "type": "quantitative"},
   "text": {"field": "t"}}}
]},

{"layer": [
 {"data": {"name": "err"}, "mark": {"type": "line", "stroke": "#555", "strokeWidth": 0.7},
  "encoding": {"x": {"field": "x", "type": "quantitative"},
   "y": {"field": "e", "type": "quantitative", "scale": {"domain": [-1.302, 10.1], "nice": false, "zero": false},
    "axis": {"orient": "left", "values": [-1.25, -1, -0.75, -0.5, -0.25, 0, 0.25, 0.5, 0.75, 1, 1.25], "labelExpr": "datum.value === 0.5 ? '0.5' : (datum.value === 0 ? '0' : (datum.value === -0.5 ? '−0.5' : ''))", "tickSize": 9, "domain": false, "labelFontSize": 21, "labelPadding": 6, "labelBaseline": "middle", "title": null, "zindex": 1}}}},
 {"data": {"name": "err"}, "mark": {"type": "circle", "color": "#e0622b", "size": 26, "opacity": 1},
  "encoding": {"x": {"field": "x", "type": "quantitative"},
   "y": {"field": "e", "type": "quantitative"}}},
 {"data": {"values": [{"x": 0, "y0": -1.302, "y1": 1.26}]}, "mark": {"type": "rule", "stroke": "#222", "strokeWidth": 1.5},
  "encoding": {"x": {"field": "x", "type": "quantitative"},
   "y": {"field": "y0", "type": "quantitative"}, "y2": {"field": "y1"}}},
 {"data": {"values": [{"x": 0, "y": -1.25}, {"x": 0, "y": 1.25}]}, "mark": {"type": "tick", "orient": "horizontal", "size": 15, "thickness": 1.5, "color": "#222", "xOffset": -7.5, "opacity": 1},
  "encoding": {"x": {"field": "x", "type": "quantitative"},
   "y": {"field": "y", "type": "quantitative"}}},
 {"data": {"values": [{"x": 50, "y": -1.302}, {"x": 150, "y": -1.302}, {"x": 250, "y": -1.302}, {"x": 350, "y": -1.302}, {"x": 450, "y": -1.302}]}, "mark": {"type": "tick", "orient": "vertical", "size": 9, "thickness": 1.5, "color": "#222", "yOffset": 4.5, "opacity": 1},
  "encoding": {"x": {"field": "x", "type": "quantitative"},
   "y": {"field": "y", "type": "quantitative"}}},
 {"data": {"values": [{"x": 220.8, "y": 1.343, "x2": 254, "y2": 0.594}]}, "mark": {"type": "rule", "stroke": "#000", "strokeWidth": 2.2},
  "encoding": {"x": {"field": "x", "type": "quantitative"},
   "y": {"field": "y", "type": "quantitative"},
   "x2": {"field": "x2"}, "y2": {"field": "y2"}}},
 {"data": {"values": [{"x": 254, "y": 0.594}]}, "mark": {"type": "circle", "color": "#000", "size": 160, "opacity": 1},
  "encoding": {"x": {"field": "x", "type": "quantitative"},
   "y": {"field": "y", "type": "quantitative"}}},
 {"data": {"values": [{"x": 174.9, "y": 1.553, "t": "absolute error"}]}, "mark": {"type": "text", "font": "Liberation Sans", "fontSize": 24, "align": "center", "baseline": "middle", "color": "#000"},
  "encoding": {"x": {"field": "x", "type": "quantitative"},
   "y": {"field": "y", "type": "quantitative"},
   "text": {"field": "t"}}},
 {"data": {"values": [{"x": 270.2, "y": 1.62, "t": "θ = |x − x*|"}]}, "mark": {"type": "text", "font": "Liberation Serif", "fontStyle": "italic", "fontSize": 27, "align": "center", "baseline": "middle", "color": "#4a5470"},
  "encoding": {"x": {"field": "x", "type": "quantitative"},
   "y": {"field": "y", "type": "quantitative"},
   "text": {"field": "t"}}}
]}
],
"resolve": {"scale": {"y": "independent"}}
}
